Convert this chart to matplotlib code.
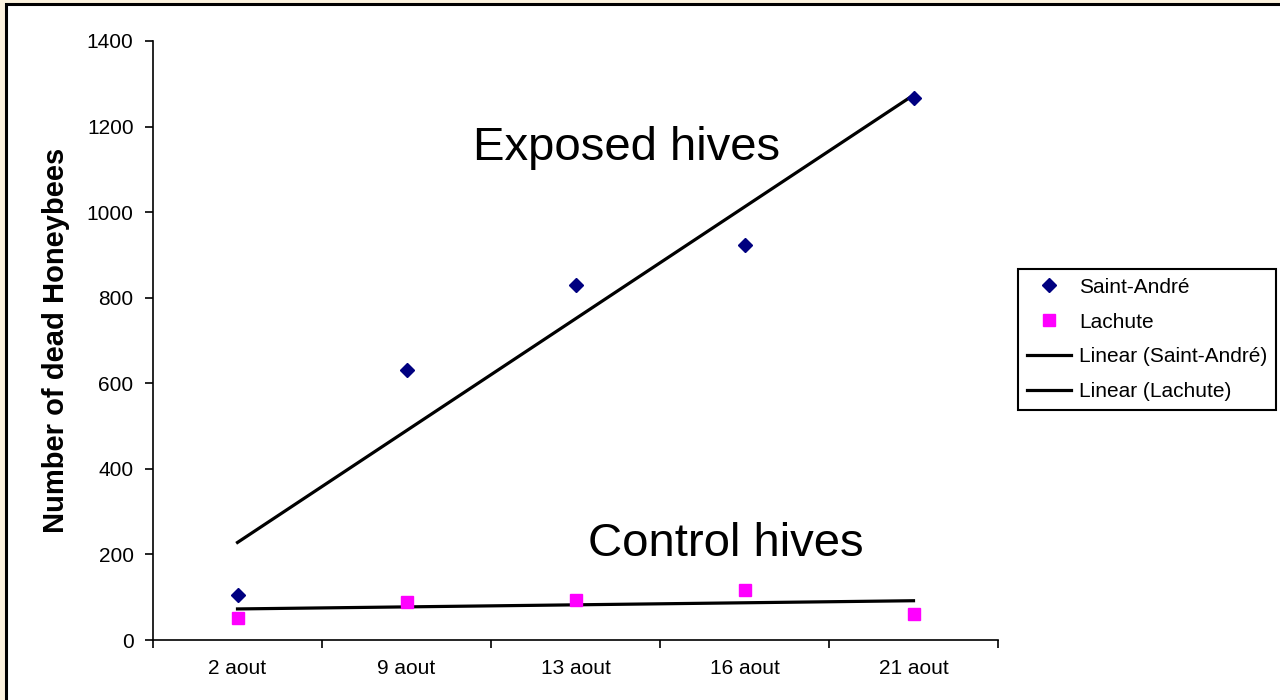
import numpy as np
import matplotlib
matplotlib.use("Agg")
import matplotlib.pyplot as plt
from matplotlib.patches import Rectangle
from matplotlib.lines import Line2D

categories = ["2 aout", "9 aout", "13 aout", "16 aout", "21 aout"]
saint_andre = [105, 631, 829, 923, 1266]
lachute = [51, 89, 93, 117, 61]
y_ticks = [0, 200, 400, 600, 800, 1000, 1200, 1400]

plt.rcParams['font.family'] = ['Liberation Sans', 'DejaVu Sans']

fig = plt.figure(figsize=(12.8, 7.0), dpi=100)
fig.patch.set_facecolor('#FCF2DE')
# chart-area frame
frame = Rectangle((6/1280, -0.05), 1.1, 1 - 4/700 + 0.05,
                  transform=fig.transFigure, facecolor='white',
                  edgecolor='black', linewidth=2.2, zorder=-10)
fig.patches.append(frame)

ax = fig.add_axes([153/1280, 1 - 640/700, (998 - 153)/1280, (640 - 41)/700])
ax.set_facecolor('none')

x = np.arange(1, len(categories) + 1)

ax.plot(x, saint_andre, linestyle='none', marker='D', markersize=7.5,
        color='#000080', zorder=3, clip_on=False)
ax.plot(x, lachute, linestyle='none', marker='s', markersize=8.5,
        color='#FF00FF', zorder=3, clip_on=False)

# linear trend lines
for ser in (saint_andre, lachute):
    m, b = np.polyfit(x, ser, 1)
    ax.plot(x[[0, -1]], m * x[[0, -1]] + b, color='black', linewidth=2.3, zorder=2)

ax.set_xlim(0.5, len(categories) + 0.5)
ax.set_ylim(0, 1400)
ax.set_yticks(y_ticks)
ax.set_yticklabels([str(v) for v in y_ticks])
ax.set_xticks(np.arange(0.5, len(categories) + 1, 1.0))
ax.set_xticklabels([])
ax.set_xticks(x, minor=True)
ax.set_xticklabels(categories, minor=True)
ax.tick_params(axis='x', which='minor', length=0, pad=14, labelsize=15)
ax.tick_params(axis='x', which='major', length=6, width=1.2, direction='out')
ax.tick_params(axis='y', length=6, width=1.2, direction='out', pad=8, labelsize=15)

for s in ('top', 'right'):
    ax.spines[s].set_visible(False)
for s in ('left', 'bottom'):
    ax.spines[s].set_linewidth(1.2)

ax.set_ylabel('Number of dead Honeybees', fontsize=21, fontweight='bold', labelpad=12)

ax.text(3.3, 1123, 'Exposed hives', fontsize=34, ha='center', va='baseline')
ax.text(3.89, 196, 'Control hives', fontsize=34, ha='center', va='baseline')

handles = [
    Line2D([], [], linestyle='none', marker='D', markersize=7.5, color='#000080'),
    Line2D([], [], linestyle='none', marker='s', markersize=8.5, color='#FF00FF'),
    Line2D([], [], color='black', linewidth=2.3),
    Line2D([], [], color='black', linewidth=2.3),
]
labels = ['Saint-André', 'Lachute', 'Linear (Saint-André)', 'Linear (Lachute)']
leg = fig.legend(handles, labels, loc='upper left',
                 bbox_to_anchor=(1018/1280, 1 - 269/700),
                 fontsize=15, frameon=True, fancybox=False,
                 edgecolor='black', framealpha=1, borderaxespad=0,
                 handlelength=2.1, handletextpad=0.4, labelspacing=0.76,
                 borderpad=0.42)
leg.get_frame().set_linewidth(1.5)

fig.savefig('out.png', dpi=100, facecolor=fig.get_facecolor())
